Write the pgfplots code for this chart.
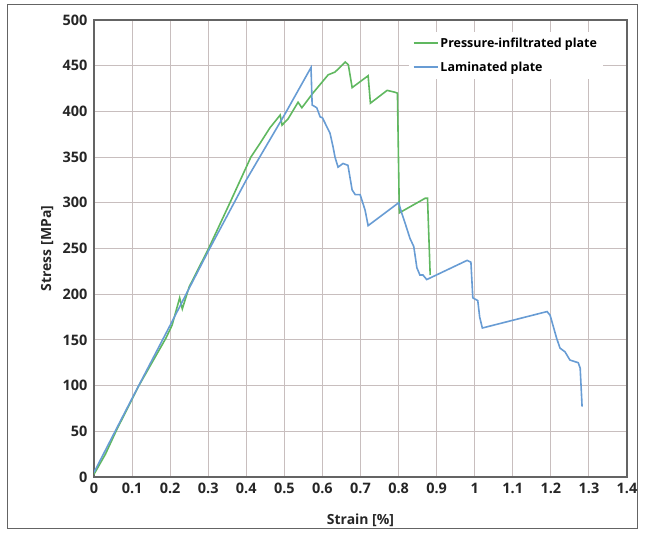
\documentclass[border=0pt]{standalone}
\usepackage{fontspec}
\setmainfont{Open Sans}
\usepackage{pgfplots}
\pgfplotsset{compat=1.18}
\definecolor{gcol}{RGB}{96,184,96}
\definecolor{bcol}{RGB}{104,156,212}
\definecolor{gridc}{RGB}{200,190,190}
\definecolor{axc}{RGB}{100,100,100}
\begin{document}
\begin{tikzpicture}[x=1bp,y=1bp]
\useasboundingbox (0,0) rectangle (646,541);
\draw[axc,line width=0.8bp] (7,13) rectangle (637,537);
\begin{axis}[
  at={(94bp,64bp)}, anchor=south west,
  scale only axis, width=533bp, height=457bp,
  xmin=0, xmax=1.4, ymin=0, ymax=500,
  xtick={0,0.1,...,1.41}, ytick={0,50,...,500},
  xticklabels={0,0.1,0.2,0.3,0.4,0.5,0.6,0.7,0.8,0.9,1,1.1,1.2,1.3,1.4},
  grid=major,
  major grid style={gridc, line width=1bp},
  axis line style={axc, line width=1.2bp},
  major tick length=0pt,
  /pgf/number format/assume math mode=true,
  tick label style={font=\fontsize{14.5}{16}\selectfont\bfseries, text=black!85},
  xticklabel style={yshift=-3bp},
  yticklabel style={xshift=-3bp},
  xlabel={Strain [\%]}, ylabel={Stress [MPa]},
  label style={font=\fontsize{14}{16}\selectfont\bfseries, text=black!85},
  x label style={at={(axis description cs:0.5,-0.094)}, anchor=center},
  y label style={at={(axis description cs:-0.088,0.5)}, anchor=center, rotate=0},
  legend style={at={(axis description cs:0.59,0.975)}, anchor=north west,
    draw=none, fill=white, font=\fontsize{12.5}{14}\selectfont\bfseries,
    row sep=9bp, inner xsep=4bp, inner ysep=4bp},
  legend cell align=left,
  legend image code/.code={\draw[#1, line width=1.8bp] (0bp,0bp) -- (24bp,0bp);},
]
\addplot[gcol, line width=1.6bp] coordinates {
(0,3) (0.03,25) (0.06,52) (0.118,100) (0.189,152) (0.205,166) (0.225,196) (0.232,184)
(0.25,208) (0.301,250) (0.357,300) (0.412,350) (0.436,365) (0.462,382) (0.489,396)
(0.494,385) (0.51,392) (0.536,410) (0.546,404) (0.575,420) (0.615,440)
(0.633,443) (0.66,454) (0.668,451) (0.678,426) (0.72,439) (0.726,409)
(0.77,423) (0.79,421) (0.797,420) (0.802,289) (0.87,305) (0.876,305) (0.883,221)
};
\addlegendentry{Pressure-infiltrated plate}
\addplot[bcol, line width=1.6bp] coordinates {
(0,5) (0.1,86) (0.2,166) (0.3,247) (0.4,325) (0.5,396) (0.57,448) (0.573,407)
(0.585,404) (0.594,394) (0.60,393) (0.62,376) (0.628,361) (0.633,350)
(0.641,339) (0.654,343) (0.667,341) (0.678,314) (0.686,309) (0.699,309)
(0.712,292) (0.72,275) (0.80,300) (0.808,289) (0.82,274) (0.83,261) (0.84,252)
(0.848,229) (0.856,221) (0.864,221) (0.874,216) (0.98,237) (0.99,235)
(0.995,196) (1.008,193) (1.013,175) (1.02,163) (1.19,181) (1.198,177)
(1.215,152) (1.224,141) (1.237,137) (1.25,128) (1.272,125) (1.277,119) (1.282,77)
};
\addlegendentry{Laminated plate}
\end{axis}
\end{tikzpicture}
\end{document}
